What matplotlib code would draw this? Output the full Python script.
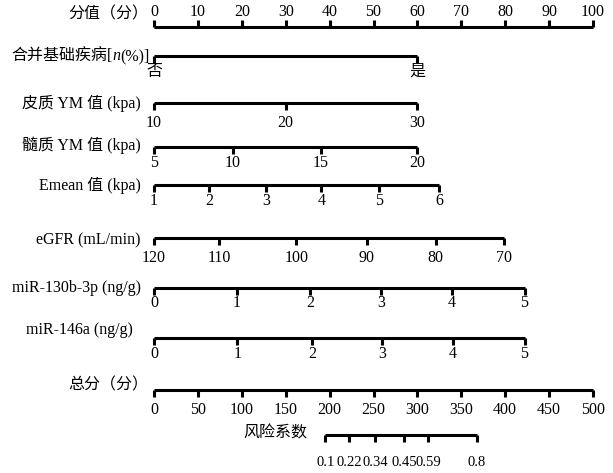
import matplotlib
matplotlib.use("Agg")
import matplotlib.pyplot as plt

plt.rcParams['font.family'] = ['Liberation Serif', 'Noto Sans CJK SC']

# scale of each row, in points (0-100)
points_ticks = [0, 10, 20, 30, 40, 50, 60, 70, 80, 90, 100]
disease_labels = ['否', '是']
disease_pts = [0, 60]
cortex_labels = ['10', '20', '30']
cortex_pts = [0, 30, 60]
medulla_labels = ['5', '10', '15', '20']
medulla_pts = [0, 18, 38, 60]
emean_labels = ['1', '2', '3', '4', '5', '6']
emean_pts = [0, 12.5, 25.6, 38.1, 51.3, 64.9]
egfr_labels = ['120', '110', '100', '90', '80', '70']
egfr_pts = [0, 14.8, 32.4, 48.5, 64.2, 79.8]
mir130_labels = ['0', '1', '2', '3', '4', '5']
mir130_pts = [0, 18.8, 35.6, 51.7, 67.8, 84.4]
mir146_labels = ['0', '1', '2', '3', '4', '5']
mir146_pts = [0, 19.0, 36.0, 52.0, 68.0, 84.4]
total_ticks = [0, 50, 100, 150, 200, 250, 300, 350, 400, 450, 500]
risk_labels = ['0.1', '0.22', '0.34', '0.45', '0.59', '0.8']
risk_total = [195, 222, 252, 285, 312, 368]

fig = plt.figure(figsize=(6.13, 4.73), dpi=100)
ax = fig.add_axes([0, 0, 1, 1])
# x: points, 0 -> 154px, 100 -> 593px ; y: pixels from top
px_per_pt = (593 - 154) / 100.0
ax.set_xlim(-154 / px_per_pt, (613 - 154) / px_per_pt)
ax.set_ylim(473, 0)
ax.axis('off')

lw = 2.2
tick_len = 7
fs = 11.5


def draw_row(name, pts, labels, y, name_y, lab_y, up=False, name_x=-3.0, fsl=fs):
    ax.plot([pts[0], pts[-1]], [y, y], color='black', lw=lw, solid_capstyle='butt')
    dy = -tick_len if up else tick_len
    for p in pts:
        ax.plot([p, p], [y, y + dy], color='black', lw=lw, solid_capstyle='butt')
    for p, l in zip(pts, labels):
        ax.text(p, lab_y, l, ha='center', va='center', fontsize=fsl)
    if name:
        ax.text(name_x, name_y, name, ha='right', va='center', fontsize=fs)


draw_row('分值（分）', points_ticks, [str(v) for v in points_ticks], 27, 14, 12,
         up=True, name_x=-1.4)
draw_row(None, disease_pts, disease_labels, 56, 56, 72)
# label with italic n, built right to left
t3 = ax.text(-1.0, 60, '(%)]', ha='right', va='baseline', fontsize=fs)
t2 = ax.annotate('n', xy=(0, 0), xycoords=t3, ha='right', va='bottom',
                 fontsize=fs, style='italic')
t1 = ax.annotate('合并基础疾病[', xy=(0, 0), xycoords=t2, ha='right', va='bottom',
                 fontsize=fs)
draw_row('皮质 YM 值 (kpa)', cortex_pts, cortex_labels, 103, 103, 123)
draw_row('髓质 YM 值 (kpa)', medulla_pts, medulla_labels, 147, 145, 163)
draw_row('Emean 值 (kpa)', emean_pts, emean_labels, 185, 185, 201)
draw_row('eGFR (mL/min)', egfr_pts, egfr_labels, 238, 240, 258)
draw_row('miR-130b-3p (ng/g)', mir130_pts, mir130_labels, 288, 288, 303)
draw_row('miR-146a (ng/g)', mir146_pts, mir146_labels, 338, 330, 354, name_x=-4.8)
draw_row('总分（分）', [t / 5 for t in total_ticks], [str(v) for v in total_ticks], 390, 385, 410,
         name_x=-1.4)
draw_row('风险系数', [t / 5 for t in risk_total], risk_labels, 435, 434, 462,
         name_x=risk_total[0] / 5 - 4.0, fsl=10.5)

fig.savefig('out.png', dpi=100)
